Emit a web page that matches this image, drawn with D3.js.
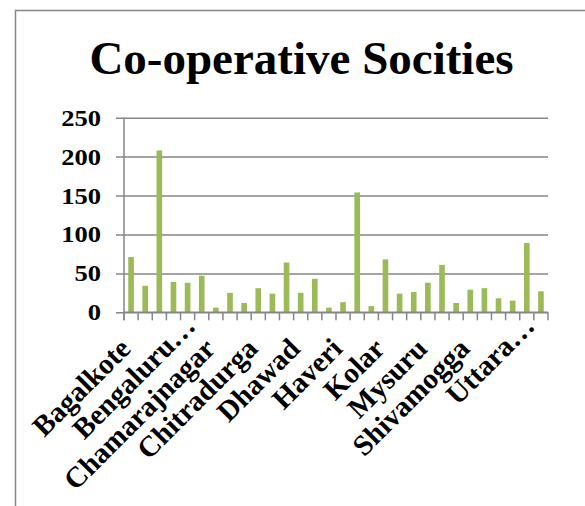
<!DOCTYPE html>
<html>
<head>
<meta charset="utf-8">
<script src="https://cdn.jsdelivr.net/npm/d3@7"></script>
<style>
  html, body { margin: 0; padding: 0; background: #fff; }
  svg { display: block; }
</style>
</head>
<body>
<svg id="chart" width="585" height="506"></svg>
<script>
const title = "Co-operative Socities";
const categories = [
  "Bagalkote", "Ballari", "Belagavi", "Bengaluru Rural", "Bengaluru Urban", "Bidar",
  "Chamarajnagar", "Chikkaballapur", "Chikkamagaluru", "Chitradurga", "Dakshina Kannada", "Davanagere",
  "Dhawad", "Gadag", "Hassan", "Haveri", "Kalaburagi", "Kodagu",
  "Kolar", "Koppal", "Mandya", "Mysuru", "Raichur", "Ramanagara",
  "Shivamogga", "Tumakuru", "Udupi", "Uttara Kannada", "Vijayapura", "Yadgir"
];
const values = [
  71, 34, 208, 39, 38, 47,
  6, 25, 12, 31, 24, 64,
  25, 43, 6, 13, 154, 8,
  68, 24, 26, 38, 61, 12,
  29, 31, 18, 15, 89, 27
];
const tickLabels = ["Bagalkote", "Bengaluru…", "Chamarajnagar", "Chitradurga", "Dhawad",
                    "Haveri", "Kolar", "Mysuru", "Shivamogga", "Uttara…"];
const labelEvery = 3;
const yTicks = [0, 50, 100, 150, 200, 250];

const svg = d3.select("#chart");
const gridColor = "#868686";
const barColor = "#9BBB59";
const font = "'Liberation Serif', 'Times New Roman', serif";

// outer border (chart area frame)
svg.append("rect")
  .attr("x", 15.5).attr("y", 10.5)
  .attr("width", 600).attr("height", 600)
  .attr("fill", "none").attr("stroke", gridColor).attr("stroke-width", 1.5);

// title
svg.append("text")
  .attr("x", 301.5).attr("y", 74)
  .attr("text-anchor", "middle")
  .attr("font-family", font).attr("font-weight", "bold")
  .attr("font-size", 47)
  .attr("fill", "#000")
  .text(title);

const plot = { left: 124, right: 548, top: 117.7, bottom: 312.3 };

const x = d3.scaleBand()
  .domain(d3.range(categories.length))
  .range([plot.left, plot.right])
  .paddingInner(0.6).paddingOuter(0.3);

const xb = d3.scaleBand()
  .domain(d3.range(categories.length))
  .range([plot.left, plot.right]);

const y = d3.scaleLinear().domain([0, 250]).range([plot.bottom, plot.top]);

// gridlines + y ticks
const yAxis = d3.axisLeft(y).tickValues(yTicks)
  .tickSize(-(plot.right - plot.left)).tickFormat(d3.format("d"));
const gy = svg.append("g").attr("transform", `translate(${plot.left},0)`).call(yAxis);
gy.select(".domain").remove();
gy.selectAll(".tick line")
  .attr("x1", -8)
  .attr("stroke", gridColor).attr("stroke-width", 1.5);
gy.selectAll(".tick text")
  .attr("x", 0)
  .attr("transform", "translate(-23,0) scale(1.13,1)")
  .attr("font-family", font).attr("font-weight", "bold")
  .attr("font-size", 23.5).attr("fill", "#000");

// y axis line
svg.append("line")
  .attr("x1", plot.left).attr("x2", plot.left)
  .attr("y1", plot.top).attr("y2", plot.bottom + 8)
  .attr("stroke", gridColor).attr("stroke-width", 1.5);

// bars
svg.append("g").selectAll("rect")
  .data(values)
  .join("rect")
  .attr("x", (d, i) => x(i))
  .attr("width", x.bandwidth())
  .attr("y", d => y(d))
  .attr("height", d => y(0) - y(d))
  .attr("fill", barColor);

// x axis line and ticks at band boundaries
svg.append("line")
  .attr("x1", plot.left).attr("x2", plot.right)
  .attr("y1", plot.bottom).attr("y2", plot.bottom)
  .attr("stroke", gridColor).attr("stroke-width", 1.5);
const boundaries = d3.range(categories.length + 1);
svg.append("g").selectAll("line")
  .data(boundaries)
  .join("line")
  .attr("x1", i => i < categories.length ? xb(i) : plot.right)
  .attr("x2", i => i < categories.length ? xb(i) : plot.right)
  .attr("y1", plot.bottom).attr("y2", plot.bottom + 8)
  .attr("stroke", gridColor).attr("stroke-width", 1.5);

// x labels
const lab = svg.append("g");
tickLabels.forEach((t, k) => {
  const i = k * labelEvery;
  const cx = xb(i) + xb.bandwidth() / 2 + 1;
  const cy = plot.bottom + 38;
  const shift = t.endsWith("…") ? 32 : 0;
  lab.append("text")
    .attr("transform", `translate(${cx},${cy}) rotate(-45)`)
    .attr("x", shift)
    .attr("text-anchor", "end")
    .attr("font-family", font).attr("font-weight", "bold")
    .attr("font-size", 29).attr("fill", "#000")
    .text(t);
});
</script>
</body>
</html>
